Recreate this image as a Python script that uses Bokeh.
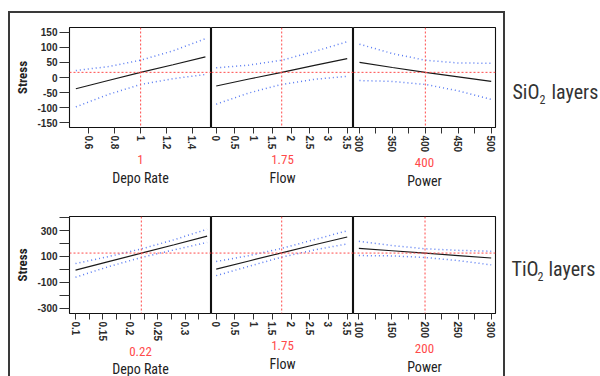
from bokeh.plotting import figure
from bokeh.layouts import row, column
from bokeh.models import Range1d, FixedTicker, NumeralTickFormatter, Title, Span, Spacer
from bokeh.embed import file_html
from bokeh.resources import INLINE
from bokeh.core.properties import value

NARROW = "'Roboto Condensed', 'Liberation Sans Narrow', Roboto, sans-serif"
REG = "'Liberation Sans', Arial, sans-serif"

# ---------------- data: SiO2 layers ----------------
sio2_depo_x = [0.5, 0.75, 1.0, 1.25, 1.5]
sio2_depo_mean = [-37, -10, 17, 42, 68]
sio2_depo_upper = [23, 36, 57, 88, 128]
sio2_depo_lower = [-97, -56, -23, -4, 10]

sio2_flow_x = [0, 0.875, 1.75, 2.625, 3.5]
sio2_flow_mean = [-28, -5, 17, 40, 62]
sio2_flow_upper = [32, 41, 57, 86, 118]
sio2_flow_lower = [-88, -51, -23, -6, 4]

sio2_power_x = [300, 350, 400, 450, 500]
sio2_power_mean = [50, 33, 17, 2, -13]
sio2_power_upper = [110, 79, 57, 48, 47]
sio2_power_lower = [-10, -13, -23, -44, -72]

sio2_settings = [1, 1.75, 400]
sio2_setting_labels = ["1", "1.75", "400"]
sio2_predicted = 17

# ---------------- data: TiO2 layers ----------------
tio2_depo_x = [0.1, 0.16, 0.22, 0.28, 0.34]
tio2_depo_mean = [-5, 60, 125, 190, 257]
tio2_depo_upper = [45, 99, 158, 229, 310]
tio2_depo_lower = [-60, 21, 92, 151, 208]

tio2_flow_x = [0, 0.875, 1.75, 2.625, 3.5]
tio2_flow_mean = [2, 65, 128, 190, 250]
tio2_flow_upper = [61, 106, 162, 230, 298]
tio2_flow_lower = [-48, 24, 95, 150, 197]

tio2_power_x = [100, 150, 200, 250, 300]
tio2_power_mean = [162, 144, 126, 107, 88]
tio2_power_upper = [217, 184, 159, 147, 140]
tio2_power_lower = [107, 104, 92, 68, 35]

tio2_settings = [0.22, 1.75, 200]
tio2_setting_labels = ["0.22", "1.75", "200"]
tio2_predicted = 126

factor_names = ["Depo Rate", "Flow", "Power"]

# ---------------- ticks ----------------
sio2_y_ticks = [-150, -100, -50, 0, 50, 100, 150]
tio2_y_ticks = [-300, -100, 100, 300]
tio2_y_minor = [-200, 0, 200, 400]
sio2_depo_ticks = [0.6, 0.8, 1.0, 1.2, 1.4]
flow_ticks = [0, 0.5, 1, 1.5, 2, 2.5, 3, 3.5]
sio2_power_ticks = [300, 350, 400, 450, 500]
sio2_power_minor = [325, 375, 425, 475]
tio2_depo_ticks = [0.1, 0.15, 0.2, 0.25, 0.3]
tio2_depo_minor = [0.125, 0.175, 0.225, 0.275, 0.325]
tio2_power_ticks = [100, 150, 200, 250, 300]
tio2_power_minor = [125, 175, 225, 275]

BLUE = "#5a7cf2"
RED = "#ff4a4a"


def panel(x, m, up, lo, setting, setting_label, pred, xr, yr, xt, xmt, yt, ymt,
          name, width, height, mbl, mbr, mbt, mbb, show_y):
    p = figure(width=width, height=height, x_range=Range1d(*xr), y_range=Range1d(*yr),
               output_backend="svg", toolbar_location=None,
               min_border_left=mbl, min_border_right=mbr, min_border_top=mbt,
               min_border_bottom=mbb, y_axis_location="left" if show_y else None)
    p.grid.visible = False
    p.outline_line_color = "#111111"
    p.outline_line_width = 1.1
    p.background_fill_color = "white"

    p.add_layout(Span(location=setting, dimension="height", line_color=RED,
                      line_dash="2 2", line_width=1))
    p.add_layout(Span(location=pred, dimension="width", line_color=RED,
                      line_dash="2 2", line_width=1))
    p.line(x, up, line_color=BLUE, line_dash="1 3", line_width=1.5)
    p.line(x, lo, line_color=BLUE, line_dash="1 3", line_width=1.5)
    p.line(x, m, line_color="#1a1a1a", line_width=1.2)

    xa = p.xaxis[0]
    xa.ticker = FixedTicker(ticks=xt, minor_ticks=xmt)
    xa.formatter = NumeralTickFormatter(format="0.[00]")
    xa.major_label_orientation = "vertical"
    xa.axis_line_color = None
    xa.major_tick_out = 6
    xa.major_tick_in = 0
    xa.minor_tick_out = 6
    xa.minor_tick_in = 0
    xa.major_tick_line_color = "#333333"
    xa.minor_tick_line_color = "#333333"
    xa.major_label_standoff = 2
    xa.major_label_text_font = REG
    xa.major_label_text_font_size = "10px"
    xa.major_label_text_font_style = "bold"
    xa.major_label_text_color = "#2a2a2a"
    xa.axis_label = setting_label
    xa.axis_label_text_color = RED
    xa.axis_label_text_font = NARROW
    xa.axis_label_text_font_size = "13px"
    xa.axis_label_text_font_style = "normal"
    xa.axis_label_standoff = 3
    p.add_layout(Title(text=name, align="center", text_font=NARROW,
                       text_font_size="14px", text_font_style="normal",
                       text_color="#222222", standoff=0), "below")

    if show_y:
        ya = p.yaxis[0]
        ya.ticker = FixedTicker(ticks=yt, minor_ticks=ymt)
        ya.formatter = NumeralTickFormatter(format="0")
        ya.axis_line_color = None
        ya.major_tick_out = 10
        ya.major_tick_in = 0
        ya.minor_tick_out = 10
        ya.minor_tick_in = 0
        ya.major_tick_line_color = "#333333"
        ya.minor_tick_line_color = "#333333"
        ya.major_label_standoff = 2
        ya.major_label_text_font = REG
        ya.major_label_text_font_size = "10px"
        ya.major_label_text_font_style = "bold"
        ya.major_label_text_color = "#2a2a2a"
        ya.axis_label = "Stress"
        ya.axis_label_text_font = NARROW
        ya.axis_label_text_font_size = "13px"
        ya.axis_label_text_font_style = "bold"
        ya.axis_label_text_color = "#222222"
        ya.axis_label_standoff = 4
    return p


FW = 142
TOP_MBT, TOP_FH, TOP_MBB = 14, 100, 62
BOT_MBT, BOT_FH, BOT_MBB = 27, 104, 56
TOP_H = TOP_MBT + TOP_FH + TOP_MBB
BOT_H = BOT_MBT + BOT_FH + BOT_MBB

sio2_yr = (-165, 165)
tio2_yr = (-340, 408)

sio2_data = [
    (sio2_depo_x, sio2_depo_mean, sio2_depo_upper, sio2_depo_lower, (0.451, 1.547), sio2_depo_ticks, []),
    (sio2_flow_x, sio2_flow_mean, sio2_flow_upper, sio2_flow_lower, (-0.126, 3.668), flow_ticks, []),
    (sio2_power_x, sio2_power_mean, sio2_power_upper, sio2_power_lower, (290.9, 506.5), sio2_power_ticks, sio2_power_minor),
]
tio2_data = [
    (tio2_depo_x, tio2_depo_mean, tio2_depo_upper, tio2_depo_lower, (0.089, 0.348), tio2_depo_ticks, tio2_depo_minor),
    (tio2_flow_x, tio2_flow_mean, tio2_flow_upper, tio2_flow_lower, (-0.126, 3.668), flow_ticks, []),
    (tio2_power_x, tio2_power_mean, tio2_power_upper, tio2_power_lower, (91.9, 306.5), tio2_power_ticks, tio2_power_minor),
]

widths = [59 + FW, FW, FW + 8]
mbls = [59, 0, 0]
mbrs = [0, 0, 8]

top_figs = []
for i, (x, m, up, lo, xr, xt, xmt) in enumerate(sio2_data):
    top_figs.append(panel(x, m, up, lo, sio2_settings[i], sio2_setting_labels[i], sio2_predicted,
                          xr, sio2_yr, xt, xmt, sio2_y_ticks, [], factor_names[i],
                          widths[i], TOP_H, mbls[i], mbrs[i], TOP_MBT, TOP_MBB, i == 0))
bot_figs = []
for i, (x, m, up, lo, xr, xt, xmt) in enumerate(tio2_data):
    bot_figs.append(panel(x, m, up, lo, tio2_settings[i], tio2_setting_labels[i], tio2_predicted,
                          xr, tio2_yr, xt, xmt, tio2_y_ticks, tio2_y_minor, factor_names[i],
                          widths[i], BOT_H, mbls[i], mbrs[i], BOT_MBT, BOT_MBB, i == 0))

box = column(row(*top_figs, spacing=0), row(*bot_figs, spacing=0), spacing=0,
             styles={"border": "2px solid #3a3a3a", "border-bottom": "0px"})
left = column(Spacer(width=10, height=11), box, spacing=0)

# right-hand labels (page coordinates: y grows downward)
TW = 95
t = figure(width=TW, height=376, x_range=Range1d(0, TW), y_range=Range1d(376, 0),
           output_backend="svg", toolbar_location=None, min_border=0,
           x_axis_location=None, y_axis_location=None)
t.grid.visible = False
t.outline_line_color = None
layer_main = ["SiO", "TiO"]
layer_sub = ["2", "2"]
layer_rest = ["layers", "layers"]
t.text(x=[7, 6], y=[91, 268], text=layer_main, text_font=value(NARROW), text_font_size="20px",
       text_color="#333333", text_baseline="alphabetic", text_align="left")
t.text(x=[34, 32], y=[99, 276], text=layer_sub, text_font=value(NARROW), text_font_size="12px",
       text_color="#333333", text_baseline="alphabetic", text_align="left")
t.text(x=[46, 43], y=[91, 268], text=layer_rest, text_font=value(NARROW), text_font_size="20px",
       text_color="#333333", text_baseline="alphabetic", text_align="left")

page = row(Spacer(width=8, height=10), left, t, spacing=0)
open("out.html", "w").write(file_html(page, INLINE))
